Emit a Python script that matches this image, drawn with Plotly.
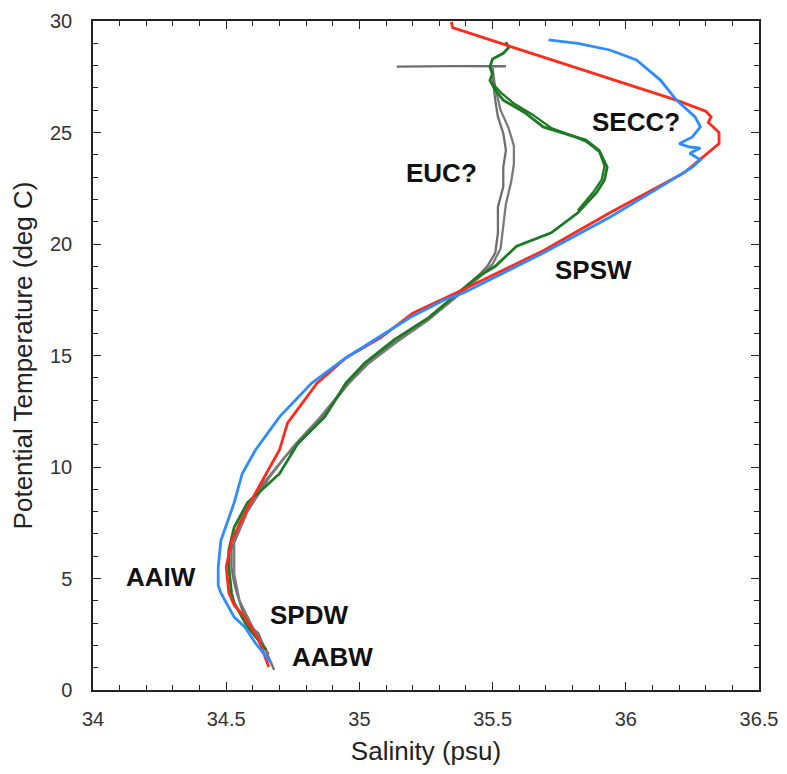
import plotly.graph_objects as go

# Red profile
red_s = [35.345, 35.35, 35.60, 35.90, 36.19, 36.30, 36.32, 36.31, 36.35, 36.35, 36.29, 36.22, 36.12,
         35.94, 35.69, 35.38, 35.20, 35.08, 34.95, 34.84, 34.73, 34.70, 34.65, 34.59, 34.52, 34.50,
         34.51, 34.53, 34.57, 34.62, 34.66]
red_t = [29.96, 29.70, 28.73, 27.57, 26.45, 25.95, 25.70, 25.45, 25.00, 24.50, 23.90, 23.20, 22.56,
         21.40, 19.70, 17.90, 16.90, 15.80, 14.90, 13.75, 11.97, 10.76, 9.70, 8.40, 6.70, 5.50,
         4.35, 3.80, 3.27, 2.30, 1.03]

# Blue profile
blue_s = [35.71, 35.82, 35.94, 36.04, 36.13, 36.19, 36.26, 36.28, 36.25, 36.20, 36.24, 36.28, 36.24,
          36.28, 36.25, 36.13, 35.94, 35.69, 35.39, 35.32, 35.19, 35.07, 34.95, 34.82, 34.70, 34.61,
          34.56, 34.53, 34.48, 34.47, 34.47, 34.48, 34.53, 34.57, 34.61, 34.67]
blue_t = [29.15, 29.00, 28.70, 28.25, 27.35, 26.45, 25.70, 25.25, 24.80, 24.50, 24.35, 24.30, 24.07,
          23.77, 23.45, 22.56, 21.20, 19.60, 17.80, 17.50, 16.70, 15.80, 14.90, 13.75, 12.25, 10.76,
          9.70, 8.40, 6.70, 5.50, 4.70, 4.35, 3.27, 2.83, 2.10, 1.20]

# Green profiles
green_s = [35.55, 35.56, 35.54, 35.50, 35.49, 35.50, 35.49, 35.51, 35.54, 35.62, 35.69, 35.77, 35.85,
           35.90, 35.93, 35.92, 35.89, 35.82, 35.72, 35.59, 35.51, 35.44, 35.37, 35.26, 35.13, 35.02,
           34.95, 34.87, 34.77, 34.70, 34.58, 34.53, 34.51, 34.51, 34.52, 34.53, 34.58, 34.65]
green_t = [29.06, 28.80, 28.55, 28.30, 27.95, 27.65, 27.35, 26.90, 26.45, 25.90, 25.25, 24.97, 24.66,
           24.20, 23.45, 22.87, 22.30, 21.40, 20.50, 19.90, 19.00, 18.50, 17.80, 16.70, 15.70, 14.66,
           13.77, 12.25, 11.07, 9.70, 8.40, 7.30, 6.28, 5.50, 4.35, 3.90, 2.83, 1.80]
green2_s = [35.50, 35.53, 35.58, 35.65, 35.72, 35.79, 35.85, 35.90, 35.92, 35.91, 35.88, 35.82]
green2_t = [27.20, 26.80, 26.30, 25.80, 25.20, 24.90, 24.60, 24.15, 23.50, 22.90, 22.35, 21.50]

# Gray profiles
gray_s = [35.14, 35.35, 35.55, 35.49, 35.50, 35.51, 35.52, 35.54, 35.55, 35.54, 35.54, 35.52, 35.52,
          35.51, 35.48, 35.43, 35.40, 35.32, 35.22, 35.09, 34.99, 34.91, 34.82, 34.72, 34.62, 34.55,
          34.52, 34.52, 34.53, 34.54, 34.56, 34.59, 34.62, 34.68]
gray_t = [27.95, 27.98, 27.97, 27.95, 27.50, 26.45, 25.70, 24.97, 24.20, 23.45, 22.56, 21.66, 20.50,
          19.60, 19.00, 18.40, 18.00, 17.20, 16.30, 15.25, 14.20, 13.00, 11.66, 10.45, 8.97, 7.50,
          6.28, 5.50, 4.80, 4.35, 3.60, 2.83, 2.56, 0.90]
gray2_s = [35.50, 35.51, 35.53, 35.56, 35.58, 35.58, 35.57, 35.55, 35.54, 35.53, 35.50, 35.45, 35.40,
           35.35, 35.26, 35.14, 35.03, 34.94, 34.85, 34.75, 34.66, 34.58, 34.53, 34.53, 34.55, 34.60,
           34.66]
gray2_t = [27.90, 27.00, 26.00, 25.20, 24.40, 23.60, 22.80, 21.80, 20.80, 19.80, 19.10, 18.50, 18.00,
           17.50, 16.60, 15.60, 14.60, 13.50, 12.20, 10.90, 9.50, 8.00, 6.60, 5.20, 4.00, 2.80, 1.60]

# Water mass labels
label_text = ["SECC?", "EUC?", "SPSW", "AAIW", "SPDW", "AABW"]
label_s = [36.04, 35.31, 35.88, 34.254, 34.81, 34.90]
label_t = [25.47, 23.20, 18.83, 5.07, 3.36, 1.48]

x_ticks = [34, 34.5, 35, 35.5, 36, 36.5]
x_tick_labels = ["34", "34.5", "35", "35.5", "36", "36.5"]
y_ticks = [0, 5, 10, 15, 20, 25, 30]

FONT = "Liberation Sans, Arial, sans-serif"

fig = go.Figure()
lw = 2.8
fig.add_trace(go.Scatter(x=gray_s, y=gray_t, mode="lines", line=dict(color="#6e6e6e", width=2.3)))
fig.add_trace(go.Scatter(x=gray2_s, y=gray2_t, mode="lines", line=dict(color="#7a7a7a", width=2.3)))
fig.add_trace(go.Scatter(x=green_s, y=green_t, mode="lines", line=dict(color="#1c7a24", width=lw)))
fig.add_trace(go.Scatter(x=green2_s, y=green2_t, mode="lines", line=dict(color="#1c7a24", width=2.3)))
fig.add_trace(go.Scatter(x=red_s, y=red_t, mode="lines", line=dict(color="#ff2a1c", width=lw)))
fig.add_trace(go.Scatter(x=blue_s, y=blue_t, mode="lines", line=dict(color="#2e8cff", width=lw)))

for txt, s, t in zip(label_text, label_s, label_t):
    fig.add_annotation(x=s, y=t, text="<b>%s</b>" % txt, showarrow=False,
                       font=dict(family=FONT, size=26, color="#111111"))

axis_common = dict(
    showgrid=False, zeroline=False, showline=True, linecolor="#222222", linewidth=1.5,
    mirror="ticks", ticks="inside", ticklen=8, tickwidth=1.3, tickcolor="#222222",
    tickfont=dict(family=FONT, size=20, color="#333333"), automargin=False,
)
fig.update_xaxes(range=[34, 36.5], tickvals=x_ticks, ticktext=x_tick_labels,
                 minor=dict(dtick=0.1, ticks="inside", ticklen=5, tickwidth=1.2, tickcolor="#222222"),
                 title=dict(text="Salinity (psu)", font=dict(family=FONT, size=26, color="#222222"), standoff=14),
                 ticklabelstandoff=10, **axis_common)
fig.update_yaxes(range=[0, 30], tickvals=y_ticks,
                 minor=dict(dtick=1, ticks="inside", ticklen=5, tickwidth=1.2, tickcolor="#222222"),
                 title=dict(text="Potential Temperature (deg C)", font=dict(family=FONT, size=26, color="#222222"), standoff=12),
                 ticklabelstandoff=15, **axis_common)

# the page body adds an 8 px margin on every side, so the figure is sized to fit the window
fig.update_layout(width=779, height=758, showlegend=False,
                  margin=dict(l=85, r=28, t=13, b=76),
                  plot_bgcolor="white", paper_bgcolor="white")
fig.write_html("out.html")
